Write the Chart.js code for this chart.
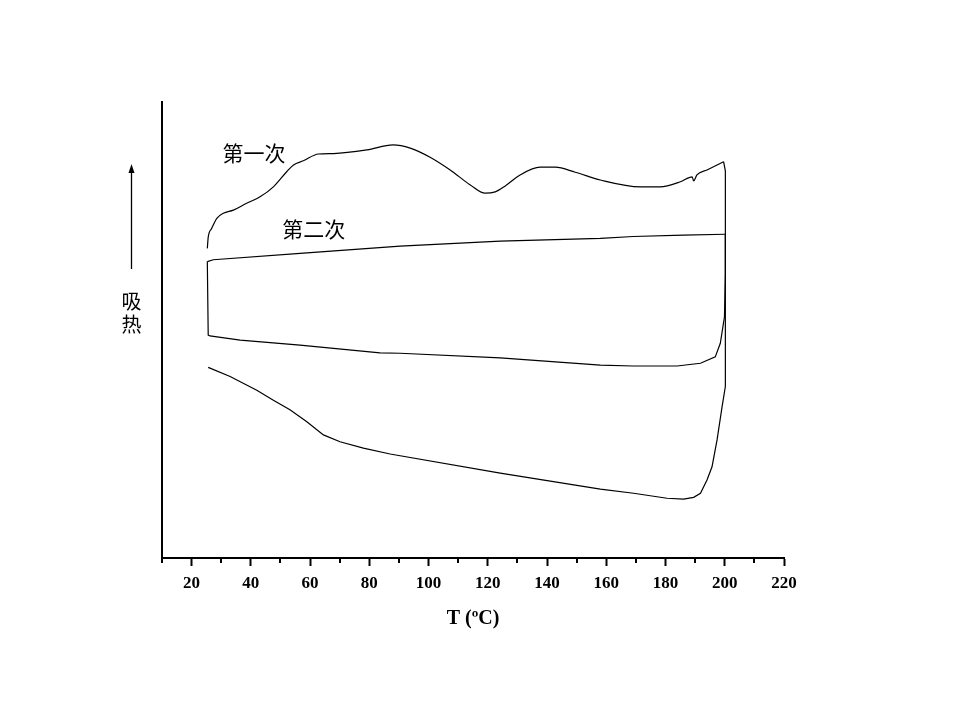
<!DOCTYPE html>
<html>
<head>
<meta charset="utf-8">
<script src="https://cdn.jsdelivr.net/npm/chart.js@4/dist/chart.umd.min.js"></script>
<style>
  html, body { margin: 0; padding: 0; background: #fff; }
  #wrap { width: 960px; height: 720px; }
</style>
</head>
<body>
<div id="wrap"><canvas id="c" width="960" height="720"></canvas></div>
<script>
// ---- Data (T in °C, heat flow in arbitrary units, endotherm up) ----
const heat1T = [25.3, 25.6, 26.8, 28.5, 30.7, 34.1, 38.6, 43.1, 47.6, 52.1, 54.4, 57.7, 62.8, 67.9, 79.2, 88.0, 93.8, 100.5, 107.3, 114.1, 119.1, 122.5, 125.9, 130.9, 137.7, 142.8, 149.5, 158.0, 171.5, 178.2, 185.0, 189.0, 189.5, 190.6, 194.0, 199.6];
const heat1Y = [67.9, 70.3, 72.3, 74.5, 75.6, 76.3, 77.8, 79.2, 81.4, 84.7, 86.2, 87.1, 88.6, 88.7, 89.5, 90.6, 89.9, 87.9, 85.1, 81.8, 80.0, 80.3, 81.6, 84.0, 85.7, 85.7, 84.6, 82.9, 81.4, 81.4, 82.5, 83.6, 82.7, 84.0, 85.1, 86.9];

const cool1T = [199.6, 200.2, 200.2, 199.1, 197.4, 195.7, 194.0, 191.8, 189.5, 186.1, 180.5, 169.2, 158.0, 124.2, 87.0, 78.0, 70.1, 64.5, 58.9, 53.2, 47.6, 42.0, 33.0, 25.6];
const cool1Y = [86.9, 84.9, 37.6, 33.2, 25.9, 20.0, 17.1, 14.2, 13.3, 12.9, 13.1, 14.2, 15.1, 18.6, 22.8, 24.1, 25.5, 27.0, 29.9, 32.5, 34.6, 36.8, 39.8, 41.8];

const heat2T = [25.3, 27.3, 56.6, 90.4, 124.2, 158.0, 169.1, 186.0, 200.2];
const heat2Y = [65.0, 65.4, 66.8, 68.4, 69.5, 70.1, 70.5, 70.8, 71.0];

const cool2T = [200.2, 200.2, 199.9, 198.5, 196.8, 191.8, 183.9, 169.1, 158.0, 124.2, 90.4, 83.6, 56.6, 36.4, 26.2, 25.6, 25.3];
const cool2Y = [71.0, 62.4, 52.9, 47.1, 44.1, 42.7, 42.1, 42.1, 42.3, 43.9, 44.9, 45.0, 46.7, 47.8, 48.7, 48.9, 65.0];

const xTicks = [20, 40, 60, 80, 100, 120, 140, 160, 180, 200, 220];
const xMinorTicks = [10, 30, 50, 70, 90, 110, 130, 150, 170, 190, 210];
const curveLabels = [
  { text: '第一次', x: 41.1, y: 88.8 },
  { text: '第二次', x: 61.2, y: 72.1 }
];
const xTitle = 'T (ºC)';
const yLabelChars = ['吸', '热'];

function pts(xs, ys) { return xs.map((x, i) => ({ x: x, y: ys[i] })); }

const lineStyle = { borderColor: '#000', borderWidth: 1.2, pointRadius: 0, showLine: true, fill: false, tension: 0 };

const annotPlugin = {
  id: 'annot',
  afterDraw(chart) {
    const ctx = chart.ctx;
    const xs = chart.scales.x, ys = chart.scales.y;
    ctx.save();
    // minor ticks
    ctx.strokeStyle = '#000';
    ctx.lineWidth = 2;
    xMinorTicks.forEach(v => {
      const px = Math.round(xs.getPixelForValue(v));
      ctx.beginPath();
      ctx.moveTo(px, chart.chartArea.bottom);
      ctx.lineTo(px, chart.chartArea.bottom + 5);
      ctx.stroke();
    });
    // curve labels
    ctx.fillStyle = '#000';
    ctx.font = '21px "Noto Sans CJK SC"';
    ctx.textAlign = 'center';
    ctx.textBaseline = 'middle';
    curveLabels.forEach(l => {
      ctx.fillText(l.text, xs.getPixelForValue(l.x), ys.getPixelForValue(l.y));
    });
    // y "axis" arrow and label
    const ax = 131.5;
    ctx.lineWidth = 1.3;
    ctx.beginPath();
    ctx.moveTo(ax, 269);
    ctx.lineTo(ax, 170);
    ctx.stroke();
    ctx.beginPath();
    ctx.moveTo(ax, 164);
    ctx.lineTo(ax - 3, 173);
    ctx.lineTo(ax + 3, 173);
    ctx.closePath();
    ctx.fill();
    ctx.font = '20px "Noto Sans CJK SC"';
    ctx.fillText(yLabelChars[0], ax, 301);
    ctx.fillText(yLabelChars[1], ax, 324);
    ctx.restore();
  }
};

new Chart(document.getElementById('c'), {
  type: 'scatter',
  data: {
    datasets: [
      Object.assign({ label: 'heat1', data: pts(heat1T, heat1Y) }, lineStyle, { cubicInterpolationMode: 'monotone' }),
      Object.assign({ label: 'cool1', data: pts(cool1T, cool1Y) }, lineStyle),
      Object.assign({ label: 'heat2', data: pts(heat2T, heat2Y) }, lineStyle),
      Object.assign({ label: 'cool2', data: pts(cool2T, cool2Y) }, lineStyle)
    ]
  },
  options: {
    responsive: false,
    animation: false,
    devicePixelRatio: 1,
    layout: { padding: { left: 162, right: 176, top: 102, bottom: 89 } },
    plugins: { legend: { display: false }, tooltip: { enabled: false } },
    scales: {
      x: {
        type: 'linear',
        min: 10, max: 220,
        afterBuildTicks(scale) {
          scale.ticks = xTicks.map(v => ({ value: v }));
        },
        afterFit(scale) { scale.height = 73; },
        ticks: {
          color: '#000',
          font: { family: '"Liberation Serif"', size: 17, weight: 'bold' },
          padding: 7,
          maxRotation: 0,
          autoSkip: false
        },
        grid: { display: true, drawOnChartArea: false, drawTicks: true, tickLength: 8, tickWidth: 2, tickColor: '#000', color: '#000' },
        border: { display: true, color: '#000', width: 2 },
        title: {
          display: true, text: xTitle, color: '#000',
          font: { family: '"Liberation Serif"', size: 20, weight: 'bold' },
          padding: { top: 0, bottom: 0 }
        }
      },
      y: {
        type: 'linear',
        min: 0, max: 100,
        afterFit(scale) { scale.width = 0; },
        ticks: { display: false },
        grid: { display: false, drawTicks: false },
        border: { display: true, color: '#000', width: 2 }
      }
    }
  },
  plugins: [annotPlugin]
});
</script>
</body>
</html>
